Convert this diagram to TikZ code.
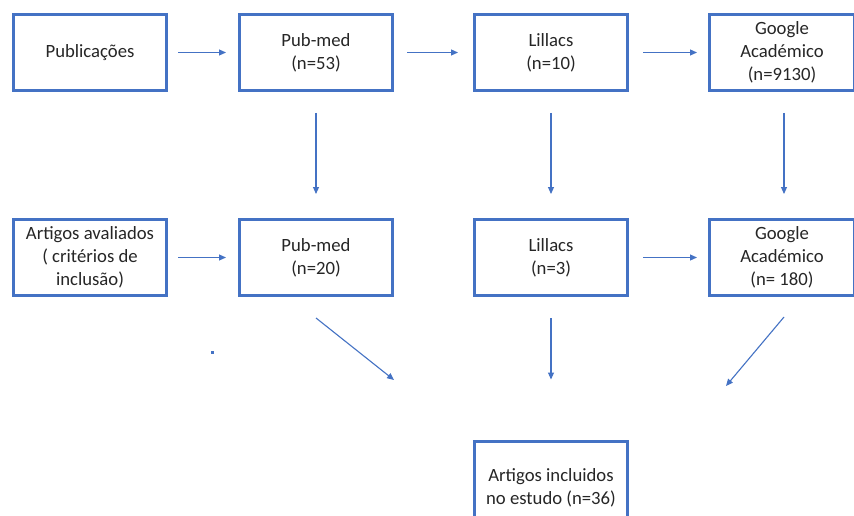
\documentclass[tikz,border=0pt]{standalone}
\usepackage{fontspec}
\setmainfont{Carlito}
\usetikzlibrary{arrows.meta,calc}
\definecolor{obl}{HTML}{4472C4}
\definecolor{txt}{HTML}{262626}
\tikzset{
  box/.style={draw=obl, line width=3pt, fill=white, align=center, text=txt,
    inner sep=0pt, minimum height=76pt,
    font=\fontsize{18.7}{23}\selectfont},
  conn/.style={draw=obl, line width=1.1pt, -{Triangle[length=7pt,width=6pt]}}
}
\begin{document}
\begin{tikzpicture}[x=1pt,y=-1pt]
\clip (0,0) rectangle (854,516);
\fill[white] (0,0) rectangle (854,516);
% row 1
\node[box, minimum width=153pt] (A1) at (90,52.5) {Publicações};
\node[box, minimum width=153pt] (P1) at (316,52.5) {Pub-med\\(n=53)};
\node[box, minimum width=153pt] (L1) at (551,52.5) {Lillacs\\(n=10)};
\node[box, minimum width=145pt] (G1) at (782,52.5) {Google\\Académico\\(n=9130)};
% row 2
\node[box, minimum width=153pt] (A2) at (90,257.5) {Artigos avaliados\\( critérios de\\inclusão)};
\node[box, minimum width=153pt] (P2) at (316,257.5) {Pub-med\\(n=20)};
\node[box, minimum width=153pt] (L2) at (551,257.5) {Lillacs\\(n=3)};
\node[box, minimum width=145pt] (G2) at (782,257.5) {Google\\Académico\\(n= 180)};
% bottom
\node[box, minimum width=153pt, minimum height=94pt] (B) at (551,488) {Artigos incluidos\\no estudo (n=36)};
\coordinate (d1) at (394,380);
\coordinate (d3) at (726,386);
% horizontal connectors
\draw[conn, shorten <=10pt, shorten >=12pt] (A1.east) -- (P1.west);
\draw[conn, shorten <=13pt, shorten >=15pt] (P1.east) -- (L1.west);
\draw[conn, shorten <=14pt, shorten >=11pt] (L1.east) -- (G1.west);
\draw[conn, shorten <=10pt, shorten >=12pt] (A2.east) -- (P2.west);
\draw[conn, shorten <=14pt, shorten >=11pt] (L2.east) -- (G2.west);
% vertical connectors
\draw[conn, shorten <=21pt, shorten >=24pt] (P1.south) -- (P2.north);
\draw[conn, shorten <=21pt, shorten >=24pt] (L1.south) -- (L2.north);
\draw[conn, shorten <=21pt, shorten >=24pt] ([xshift=2pt]G1.south) -- ([xshift=2pt]G2.north);
% to bottom
\draw[conn] ($(P2.south)+(0,21)$) -- (d1);
\draw[conn, shorten <=21pt, shorten >=60pt] (L2.south) -- (B.north);
\draw[conn] ($(G2.south)+(2,20)$) -- (d3);
% stray dot
\fill[obl] (210.5,350.5) rectangle (213.5,353.5);
\end{tikzpicture}
\end{document}
